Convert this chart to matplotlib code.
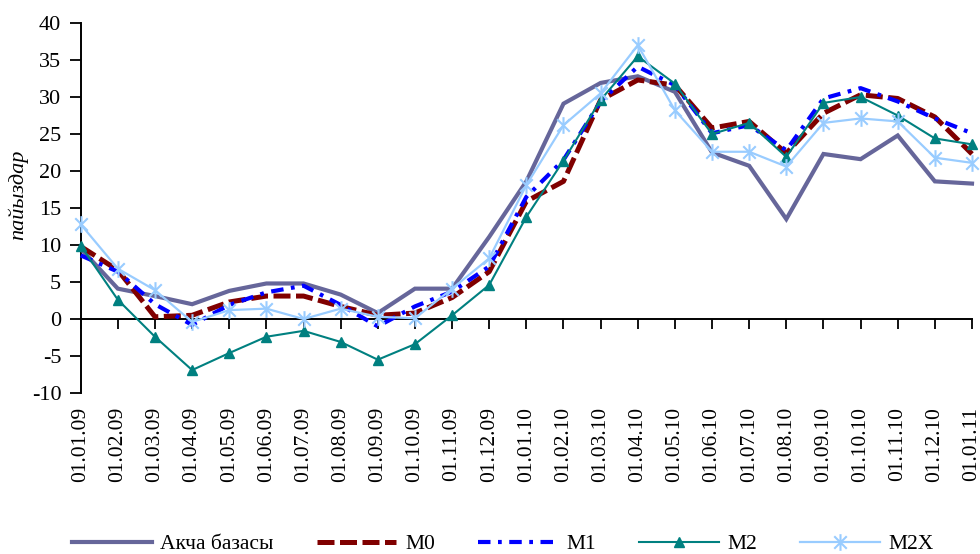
import matplotlib
matplotlib.use("Agg")
import matplotlib.pyplot as plt
from matplotlib.path import Path
import numpy as np

plt.rcParams['font.family'] = ['Liberation Serif', 'DejaVu Serif']

dates = ["01.01.09", "01.02.09", "01.03.09", "01.04.09", "01.05.09", "01.06.09",
         "01.07.09", "01.08.09", "01.09.09", "01.10.09", "01.11.09", "01.12.09",
         "01.01.10", "01.02.10", "01.03.10", "01.04.10", "01.05.10", "01.06.10",
         "01.07.10", "01.08.10", "01.09.10", "01.10.10", "01.11.10", "01.12.10",
         "01.01.11"]

akcha = [9.5, 4.1, 3.1, 2.0, 3.8, 4.8, 4.8, 3.3, 0.8, 4.1, 4.1, 11.1,
         18.6, 29.1, 31.9, 32.8, 30.7, 22.5, 20.7, 13.5, 22.3, 21.6, 24.8, 18.6, 18.3]
m0 = [9.8, 6.6, 0.3, 0.5, 2.3, 3.1, 3.1, 1.7, 0.5, 0.8, 2.9, 6.4,
      15.9, 18.6, 29.6, 32.3, 31.6, 25.8, 26.7, 22.4, 27.8, 30.3, 29.8, 27.3, 22.3]
m1 = [8.6, 6.4, 2.0, -0.8, 1.9, 3.6, 4.5, 1.9, -1.0, 1.7, 3.7, 7.1,
      16.5, 21.5, 29.4, 34.1, 31.6, 25.1, 26.2, 22.8, 29.8, 31.2, 29.4, 27.1, 25.1]
m2 = [9.9, 2.6, -2.4, -6.9, -4.6, -2.4, -1.6, -3.1, -5.5, -3.4, 0.5, 4.6,
      13.8, 21.4, 29.6, 35.5, 31.8, 25.0, 26.5, 21.9, 29.2, 30.0, 27.5, 24.4, 23.6]
m2x = [12.8, 6.8, 3.9, -0.4, 1.2, 1.4, 0.0, 1.4, 0.3, 0.1, 4.1, 8.2,
       18.1, 26.2, 30.5, 37.0, 28.2, 22.6, 22.6, 20.6, 26.5, 27.1, 26.7, 21.8, 21.1]

series_names = ["Акча базасы", "M0", "M1", "M2", "M2X"]
y_ticks = [-10, -5, 0, 5, 10, 15, 20, 25, 30, 35, 40]

x = np.arange(len(dates))

fig = plt.figure(figsize=(9.8, 5.54), dpi=100)
ax = fig.add_axes([80.7/980, 1-393/554, (972-80.7)/980, 370/554])

asterisk = Path([(0, -1), (0, 1), (-0.75, -0.75), (0.75, 0.75), (-0.75, 0.75), (0.75, -0.75)],
                [Path.MOVETO, Path.LINETO] * 3)

ax.plot(x, akcha, color='#66669A', lw=3.0, solid_joinstyle='miter', label=series_names[0], clip_on=False, zorder=3)
ax.plot(x, m0, color='#800000', lw=3.6, dashes=(3.4, 1.1), label=series_names[1], clip_on=False, zorder=4)
ax.plot(x, m1, color='#0000FF', lw=3.0, dashes=(3.0, 1.8, 0.9, 1.8), label=series_names[2], clip_on=False, zorder=5)
ax.plot(x, m2, color='#008080', lw=1.5, marker='^', ms=7.5, label=series_names[3], clip_on=False, zorder=6)
ax.plot(x, m2x, color='#99CCFF', lw=1.6, marker=asterisk, ms=12, mew=1.5, label=series_names[4], clip_on=False, zorder=7)

ax.set_xlim(0, len(dates) - 1)
ax.set_ylim(-10, 40)
ax.set_yticks(y_ticks)
ax.set_yticklabels([str(v) for v in y_ticks])
ax.set_xticks(x)
ax.set_xticklabels(dates, rotation=90, fontsize=15.5)

for s in ['top', 'right', 'bottom']:
    ax.spines[s].set_visible(False)
ax.spines['left'].set_linewidth(1.4)
ax.tick_params(axis='y', direction='out', length=8, width=1.3, pad=6, labelsize=16)
ax.tick_params(axis='x', length=0, pad=10)

sec = ax.secondary_xaxis(0.2)
sec.set_xticks(x)
sec.tick_params(axis='x', direction='out', length=7, width=1.3, labelbottom=False)
sec.spines['bottom'].set_linewidth(1.4)

ax.text(-0.070, 0.535, "пайыздар", transform=ax.transAxes, rotation=90, style='italic',
        fontsize=16, ha='center', va='center')

leg = fig.legend(loc='center', bbox_to_anchor=(0.513, 0.018), ncol=5, frameon=False,
                 fontsize=15.5, handlelength=3.7, handletextpad=0.4, columnspacing=2.0,
                 borderaxespad=0)

fig.savefig("out.png", dpi=100)
